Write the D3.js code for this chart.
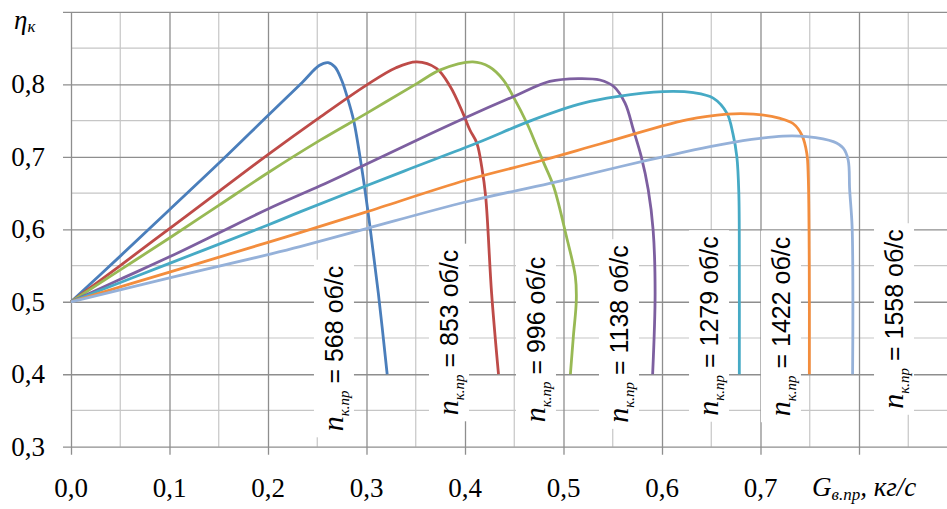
<!DOCTYPE html>
<html>
<head>
<meta charset="utf-8">
<script src="https://cdn.jsdelivr.net/npm/d3@7"></script>
<style>
  body { margin: 0; background: #fff; }
  svg { display: block; }
</style>
</head>
<body>
<svg id="chart" width="947" height="509"></svg>
<script>
// Compressor efficiency vs. reduced air flow, one curve per reduced rotor speed
const speeds = [568, 853, 996, 1138, 1279, 1422, 1558];

const curve568 = [[0,0.5],[0.05,0.563],[0.1,0.627],[0.15,0.691],[0.2,0.757],[0.235,0.803],[0.252,0.826],[0.261,0.830],[0.268,0.824],[0.275,0.805],[0.281,0.78],[0.287,0.75],[0.295,0.686],[0.3035,0.604],[0.312,0.512],[0.321,0.40]];
const curve853 = [[0,0.5],[0.05,0.55],[0.1,0.601],[0.15,0.652],[0.2,0.703],[0.25,0.752],[0.3,0.799],[0.33,0.823],[0.351,0.831],[0.371,0.822],[0.385,0.797],[0.398,0.760],[0.405,0.737],[0.412,0.719],[0.417,0.686],[0.421,0.645],[0.427,0.512],[0.434,0.40]];
const curve996 = [[0,0.5],[0.05,0.544],[0.1,0.588],[0.15,0.633],[0.2,0.678],[0.253,0.723],[0.3,0.76],[0.351,0.801],[0.375,0.820],[0.408,0.831],[0.425,0.824],[0.439,0.806],[0.449,0.783],[0.463,0.746],[0.473,0.714],[0.4805,0.69],[0.490,0.659],[0.503,0.59],[0.512,0.535],[0.513,0.502],[0.510,0.452],[0.507,0.40]];
const curve1138 = [[0,0.5],[0.05,0.531],[0.1,0.562],[0.15,0.595],[0.2,0.628],[0.253,0.660],[0.283,0.679],[0.351,0.723],[0.402,0.755],[0.449,0.783],[0.486,0.804],[0.515,0.808],[0.537,0.806],[0.551,0.797],[0.5625,0.774],[0.571,0.737],[0.579,0.700],[0.586,0.655],[0.591,0.599],[0.593,0.512],[0.5905,0.40]];
const curve1279 = [[0,0.5],[0.1,0.553],[0.2,0.606],[0.2325,0.624],[0.3375,0.680],[0.412,0.719],[0.469,0.751],[0.520,0.774],[0.554,0.783],[0.601,0.790],[0.632,0.7885],[0.652,0.781],[0.666,0.760],[0.672,0.732],[0.676,0.700],[0.678,0.65],[0.6785,0.55],[0.6785,0.40]];
const curve1422 = [[0,0.5],[0.1,0.541],[0.2,0.582],[0.2325,0.5955],[0.3,0.624],[0.4017,0.668],[0.4796,0.6956],[0.537,0.7177],[0.625,0.751],[0.666,0.759],[0.693,0.759],[0.720,0.753],[0.733,0.746],[0.742,0.730],[0.747,0.705],[0.7485,0.672],[0.7495,0.55],[0.7496,0.40]];
const curve1558 = [[0,0.5],[0.1,0.533],[0.2,0.565],[0.2325,0.576],[0.3,0.601],[0.4017,0.638],[0.486,0.6634],[0.557,0.6863],[0.601,0.700],[0.6487,0.714],[0.691,0.724],[0.723,0.7287],[0.747,0.728],[0.774,0.721],[0.784,0.712],[0.789,0.6956],[0.7905,0.655],[0.793,0.6036],[0.7938,0.50],[0.7935,0.40]];

const xTickValues = [0, 0.1, 0.2, 0.3, 0.4, 0.5, 0.6, 0.7];
const xTickLabels = ["0,0", "0,1", "0,2", "0,3", "0,4", "0,5", "0,6", "0,7"];
const yTickValues = [0.3, 0.4, 0.5, 0.6, 0.7, 0.8];
const yTickLabels = ["0,3", "0,4", "0,5", "0,6", "0,7", "0,8"];

const allCurves = [curve568, curve853, curve996, curve1138, curve1279, curve1422, curve1558];
const colors = ["#4a7ebb", "#be4b48", "#98b954", "#7d5fa0", "#46aac5", "#f38d3d", "#95b1d9"];
// label anchors (G, eta) for the rotated speed labels
const labelAnchors = [[0.2761,0.4355],[0.3929,0.4576],[0.4812,0.4479],[0.5655,0.4555],[0.6569,0.4666],[0.7299,0.4659],[0.8447,0.4762]];

const svg = d3.select("#chart");
const plotLeft = 71, plotRight = 957.5, plotTop = 11.9, plotBottom = 446.7;
const x = d3.scaleLinear().domain([0, 0.9]).range([plotLeft, plotRight]);
const y = d3.scaleLinear().domain([0.3, 0.9]).range([plotBottom, plotTop]);

const serif = "'Liberation Serif', 'Times New Roman', serif";
const sans = "'Liberation Sans', Arial, sans-serif";

// minor grid every 0.05
const minorX = d3.range(0.05, 0.9, 0.1);
const minorY = d3.range(0.35, 0.9, 0.1);
const grid = svg.append("g");
grid.selectAll("line.mx").data(minorX).join("line")
  .attr("x1", d => x(d)).attr("x2", d => x(d)).attr("y1", plotTop).attr("y2", plotBottom)
  .attr("stroke", "#c6c6c6").attr("stroke-width", 1.2);
grid.selectAll("line.my").data(minorY).join("line")
  .attr("x1", plotLeft).attr("x2", 947).attr("y1", d => y(d)).attr("y2", d => y(d))
  .attr("stroke", "#c6c6c6").attr("stroke-width", 1.2);

// major grid every 0.1, drawn through axis generators
const xMajor = d3.range(0, 0.85, 0.1);
const yMajor = d3.range(0.3, 0.95, 0.1);
const gx = svg.append("g").attr("transform", `translate(0,${plotBottom})`)
  .call(d3.axisBottom(x).tickValues(xMajor).tickSize(-(plotBottom - plotTop)).tickSizeOuter(0).tickFormat(""));
gx.select(".domain").remove();
gx.selectAll(".tick line").attr("stroke", "#8e8e8e").attr("stroke-width", 1.3)
  .attr("y1", 8);
const gy = svg.append("g").attr("transform", `translate(${plotLeft},0)`)
  .call(d3.axisLeft(y).tickValues(yMajor).tickSize(-(947 - plotLeft)).tickSizeOuter(0).tickFormat(""));
gy.select(".domain").remove();
gy.selectAll(".tick line").attr("stroke", "#8e8e8e").attr("stroke-width", 1.3)
  .attr("x1", -8);

// tick labels
svg.append("g").selectAll("text").data(xTickValues).join("text")
  .attr("x", d => x(d)).attr("y", 497)
  .attr("text-anchor", "middle")
  .attr("font-family", serif).attr("font-size", 27).attr("fill", "#000")
  .text((d, i) => xTickLabels[i]);
svg.append("g").selectAll("text").data(yTickValues).join("text")
  .attr("x", 45).attr("y", d => y(d) + 9)
  .attr("text-anchor", "end")
  .attr("font-family", serif).attr("font-size", 27).attr("fill", "#000")
  .text((d, i) => yTickLabels[i]);

// axis titles
const yt = svg.append("text").attr("x", 14).attr("y", 29)
  .attr("font-family", serif).attr("font-style", "italic").attr("fill", "#000");
yt.append("tspan").attr("font-size", 27).text("η");
yt.append("tspan").attr("font-size", 17).attr("dy", 3).text("к");

const xt = svg.append("text").attr("x", 812).attr("y", 496)
  .attr("font-family", serif).attr("font-style", "italic").attr("fill", "#000");
xt.append("tspan").attr("font-size", 27).text("G");
xt.append("tspan").attr("font-size", 17).attr("dy", 4).text("в.пр");
xt.append("tspan").attr("font-size", 27).attr("dy", -4).text(", кг/с");

// speed labels with white boxes
const labelGroups = [];
speeds.forEach((s, i) => {
  const [gv, ev] = labelAnchors[i];
  const g = svg.append("g").attr("transform", `translate(${x(gv)},${y(ev)}) rotate(-90)`);
  const rect = g.append("rect").attr("fill", "#fff");
  const t = g.append("text").attr("x", 0).attr("y", 0).attr("text-anchor", "middle").attr("fill", "#000");
  t.append("tspan").attr("font-family", serif).attr("font-style", "italic").attr("font-size", 30).text("n");
  t.append("tspan").attr("font-family", serif).attr("font-style", "italic").attr("font-size", 15).attr("dy", 6).text("к.пр");
  t.append("tspan").attr("font-family", sans).attr("font-size", 25).attr("dy", -6).text(" = " + s + " об/с");
  const b = t.node().getBBox();
  rect.attr("x", b.x - 6).attr("y", b.y - 2).attr("width", b.width + 12).attr("height", b.height + 4);
  labelGroups.push(g);
});

// curves
const line = d3.line().x(d => x(d[0])).y(d => y(d[1])).curve(d3.curveCatmullRom.alpha(0.5));
const curvesG = svg.append("g");
allCurves.forEach((c, i) => {
  curvesG.append("path").datum(c).attr("d", line)
    .attr("fill", "none").attr("stroke", colors[i]).attr("stroke-width", 2.8)
    .attr("stroke-linejoin", "round").attr("stroke-linecap", "butt");
});
// keep labels above the curves
labelGroups.forEach(g => g.raise());
</script>
</body>
</html>
